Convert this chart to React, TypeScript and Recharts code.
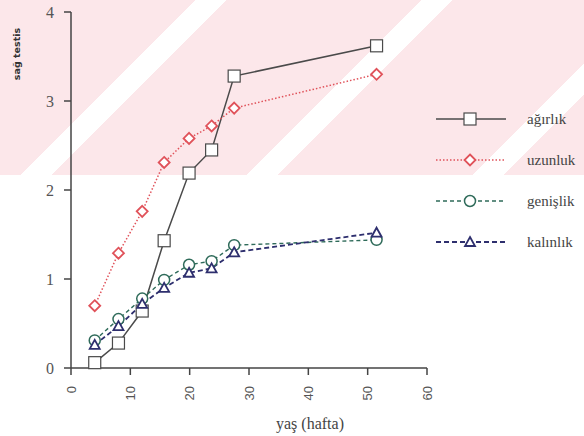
import React from 'react';
import { LineChart, Line, XAxis, YAxis } from 'recharts';

// yaş (hafta) and the four testis measures
const weeks = [4, 8, 12, 15.7, 19.9, 23.7, 27.5, 51.5];
const agirlik = [0.06, 0.28, 0.64, 1.43, 2.19, 2.45, 3.28, 3.62];
const uzunluk = [0.7, 1.29, 1.76, 2.31, 2.58, 2.72, 2.92, 3.3];
const genislik = [0.31, 0.55, 0.78, 0.99, 1.16, 1.2, 1.38, 1.44];
const kalinlik = [0.26, 0.47, 0.72, 0.9, 1.07, 1.12, 1.3, 1.52];
const xTicks = [0, 10, 20, 30, 40, 50, 60];
const yTicks = [0, 1, 2, 3, 4];

const SERIF = "'Liberation Serif', 'DejaVu Serif', serif";
const SANS = "'Liberation Sans', 'DejaVu Sans', sans-serif";

const data = weeks.map((w, i) => ({
    week: w,
    agirlik: agirlik[i],
    uzunluk: uzunluk[i],
    genislik: genislik[i],
    kalinlik: kalinlik[i],
}));

type Shape = 'square' | 'diamond' | 'circle' | 'triangle';

const series: { key: string; name: string; color: string; dash?: string; width: number; shape: Shape }[] = [
    { key: 'agirlik', name: 'ağırlık', color: '#4a4a4a', width: 1.5, shape: 'square' },
    { key: 'uzunluk', name: 'uzunluk', color: '#e0525a', dash: '1.5 2', width: 1.5, shape: 'diamond' },
    { key: 'genislik', name: 'genişlik', color: '#2f6b5a', dash: '4 3', width: 1.4, shape: 'circle' },
    { key: 'kalinlik', name: 'kalınlık', color: '#2e2f6e', dash: '5 3', width: 1.8, shape: 'triangle' },
];

const Marker = ({ cx, cy, shape, color }: { cx: number; cy: number; shape: Shape; color: string }) => {
    if (shape === 'square') {
        return <rect x={cx - 6} y={cy - 6} width={12} height={12} fill="#fff" stroke={color} strokeWidth={1.2} />;
    }
    if (shape === 'diamond') {
        return (
            <polygon
                points={`${cx},${cy - 5.5} ${cx + 5.5},${cy} ${cx},${cy + 5.5} ${cx - 5.5},${cy}`}
                fill="#fff"
                stroke={color}
                strokeWidth={1.8}
            />
        );
    }
    if (shape === 'circle') {
        return <circle cx={cx} cy={cy} r={5.5} fill="#fff" stroke={color} strokeWidth={1.5} />;
    }
    return (
        <polygon
            points={`${cx},${cy - 5} ${cx + 5},${cy + 4} ${cx - 5},${cy + 4}`}
            fill="#fff"
            stroke={color}
            strokeWidth={1.8}
        />
    );
};

const XTick = (props: any) => {
    const { x, y, payload } = props;
    return (
        <text
            x={x}
            y={y + 9}
            transform={`rotate(-90, ${x}, ${y + 9})`}
            textAnchor="end"
            dominantBaseline="central"
            style={{ fontFamily: SANS }}
            fontSize={13}
            fill="#555"
        >
            {payload.value}
        </text>
    );
};

const ChartLegend = () => (
    <svg width={160} height={150} style={{ position: 'absolute', left: 430, top: 100 }}>
        {series.map((s, i) => {
            const y = 19 + i * 41;
            return (
                <g key={s.key}>
                    <line x1={6} x2={76} y1={y} y2={y} stroke={s.color} strokeWidth={s.width} strokeDasharray={s.dash} />
                    <Marker cx={40} cy={y} shape={s.shape} color={s.color} />
                    <text x={97} y={y} dominantBaseline="central" style={{ fontFamily: SERIF }} fontSize={15} fill="#444">
                        {s.name}
                    </text>
                </g>
            );
        })}
    </svg>
);

const App = () => {
    return (
        <div style={{ position: 'absolute', left: 0, top: 0, width: 584, height: 436, background: '#fff' }}>
            {/* faint pink watermark band from the scanned page */}
            <div
                style={{
                    position: 'absolute',
                    left: 0,
                    top: 0,
                    width: 584,
                    height: 175,
                    background: 'repeating-linear-gradient(135deg, #fce7ea 0 138px, #ffffff 138px 160px)',
                }}
            />
            <div style={{ position: 'absolute', left: 0, top: 0 }}>
                <LineChart width={584} height={436} data={data} margin={{ top: 12, right: 157, bottom: 0, left: 0 }}>
                    <XAxis
                        dataKey="week"
                        type="number"
                        domain={[0, 60]}
                        ticks={xTicks}
                        height={68}
                        stroke="#444"
                        strokeWidth={1.5}
                        tickSize={7}
                        tick={<XTick />}
                        label={{
                            value: 'yaş (hafta)',
                            position: 'insideBottom',
                            dx: 61,
                            offset: 7,
                            style: { fontFamily: SERIF },
                            fontSize: 16,
                            fill: '#444',
                        }}
                    />
                    <YAxis
                        type="number"
                        domain={[0, 4]}
                        ticks={yTicks}
                        width={71}
                        stroke="#444"
                        strokeWidth={1.5}
                        tickSize={7}
                        tickMargin={10}
                        tick={{ style: { fontFamily: SERIF }, fontSize: 16, fill: '#555' }}
                        label={{
                            content: (p: any) => (
                                <text
                                    x={p.viewBox.x + 16}
                                    y={p.viewBox.y + 42}
                                    transform={`rotate(-90, ${p.viewBox.x + 16}, ${p.viewBox.y + 42})`}
                                    textAnchor="middle"
                                    dominantBaseline="central"
                                    style={{ fontFamily: "'DejaVu Sans', sans-serif" }}
                                    fontWeight="bold"
                                    fontSize={9.5}
                                    fill="#333"
                                >
                                    sağ testis
                                </text>
                            ),
                        }}
                    />
                    {series.map((s) => (
                        <Line
                            key={s.key}
                            dataKey={s.key}
                            name={s.name}
                            type="linear"
                            stroke={s.color}
                            strokeWidth={s.width}
                            strokeDasharray={s.dash}
                            isAnimationActive={false}
                            dot={(p: any) => <Marker key={`${s.key}-${p.index}`} cx={p.cx} cy={p.cy} shape={s.shape} color={s.color} />}
                            activeDot={false}
                        />
                    ))}
                </LineChart>
            </div>
            <ChartLegend />
        </div>
    );
};

export default App;
